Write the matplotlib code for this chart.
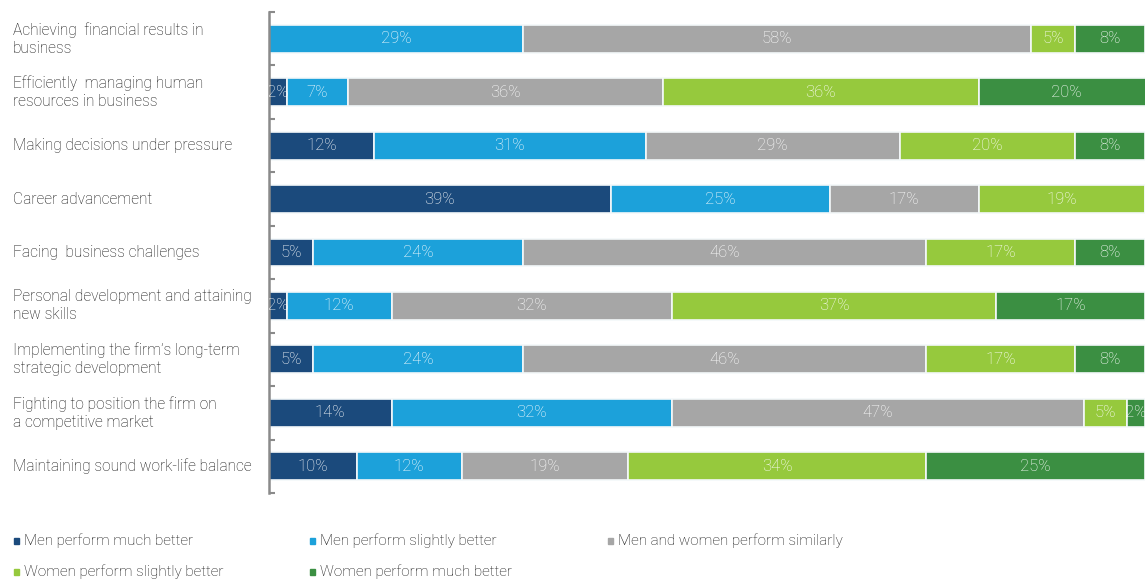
import matplotlib
matplotlib.use("Agg")
import matplotlib.pyplot as plt
import numpy as np

categories = [
    "Achieving  financial results in\nbusiness",
    "Efficiently  managing human\nresources in business",
    "Making decisions under pressure",
    "Career advancement",
    "Facing  business challenges",
    "Personal development and attaining\nnew skills",
    "Implementing the firm\u2019s long-term\nstrategic development",
    "Fighting to position the firm on\na competitive market",
    "Maintaining sound work-life balance",
]

series_names = [
    "Men perform much better",
    "Men perform slightly better",
    "Men and women perform similarly",
    "Women perform slightly better",
    "Women perform much better",
]

men_much = [0, 2, 12, 39, 5, 2, 5, 14, 10]
men_slightly = [29, 7, 31, 25, 24, 12, 24, 32, 12]
similar = [58, 36, 29, 17, 46, 32, 46, 47, 19]
women_slightly = [5, 36, 20, 19, 17, 37, 17, 5, 34]
women_much = [8, 20, 8, 0, 8, 17, 8, 2, 25]

series_values = [men_much, men_slightly, similar, women_slightly, women_much]
colors = ["#1b4a7c", "#1ca1da", "#a6a6a6", "#96c93d", "#3b8f42"]

FONT = ["Roboto", "DejaVu Sans"]

fig = plt.figure(figsize=(11.45, 5.83), dpi=100)
ax = fig.add_axes([269 / 1145, 1 - 493 / 583, 1 - 269 / 1145, (493 - 12) / 583])

y = np.arange(len(categories))
left = np.zeros(len(categories))
for name, vals, col in zip(series_names, series_values, colors):
    vals = np.array(vals, dtype=float)
    ax.barh(y, vals, left=left, height=0.52, color=col, edgecolor="#f4f8fa",
            linewidth=1.2, label=name)
    for yi, (l, v) in enumerate(zip(left, vals)):
        if v > 0:
            ax.text(l + v / 2, yi, f"{int(v)}%", ha="center", va="center",
                    color="white", fontsize=12, family=FONT, weight="light",
                    clip_on=True)
    left += vals

ax.set_xlim(0, 100)
ax.set_ylim(8.5, -0.5)
ax.set_xticks([])
ax.set_yticks(np.arange(-0.5, 9.0, 1.0))
ax.set_yticklabels([])
ax.tick_params(axis="y", direction="in", length=4, width=1.5, color="#8a8a8a")
for s in ["top", "right", "bottom"]:
    ax.spines[s].set_visible(False)
ax.spines["left"].set_color("#8a8a8a")
ax.spines["left"].set_linewidth(1.8)

for yi, cat in enumerate(categories):
    fig.text(13 / 1145, 1 - (12 + 53.44 * (yi + 0.5)) / 583, cat, ha="left",
             va="center", fontsize=11.2, family=FONT, weight="light",
             color="#111111", linespacing=1.25)

# legend laid out in two rows of squares and labels
leg_pos = [(14, 541), (310, 541), (608, 541), (14, 572), (310, 572)]
for (px, py), name, col in zip(leg_pos, series_names, colors):
    fig.patches.append(plt.Rectangle((px / 1145, 1 - (py + 3) / 583), 5 / 1145, 6 / 583,
                                     transform=fig.transFigure, color=col))
    fig.text((px + 10) / 1145, 1 - py / 583, name, ha="left", va="center",
             fontsize=11, family=FONT, weight="light", color="#111111")

fig.savefig("out.png", dpi=100)
